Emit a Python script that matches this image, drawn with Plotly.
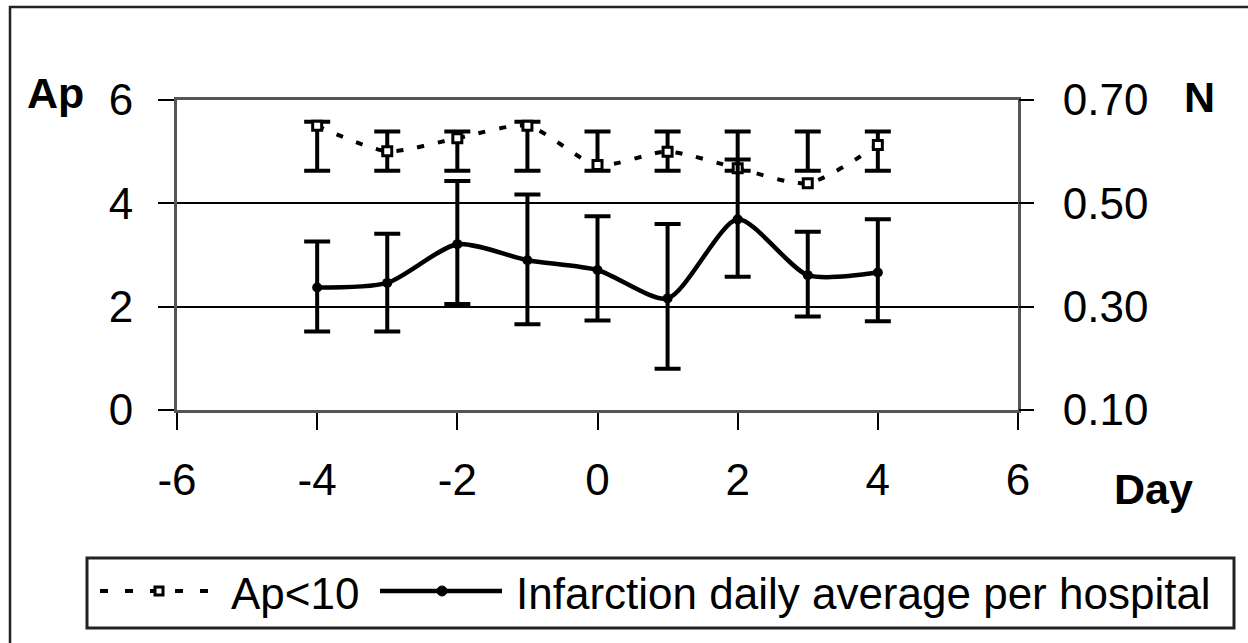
import plotly.graph_objects as go

# ---------------- data ----------------
days = [-4, -3, -2, -1, 0, 1, 2, 3, 4]

ap10 = [5.50, 5.01, 5.26, 5.50, 4.74, 5.00, 4.68, 4.39, 5.13]
ap10_hi = [5.58, 5.39, 5.39, 5.58, 5.39, 5.39, 5.39, 5.39, 5.39]
ap10_lo = [4.63, 4.63, 4.63, 4.63, 4.63, 4.63, 4.63, 4.63, 4.63]

infarction = [0.337, 0.346, 0.421, 0.390, 0.371, 0.316, 0.469, 0.361, 0.366]
infarction_hi = [0.426, 0.441, 0.543, 0.517, 0.475, 0.460, 0.585, 0.445, 0.469]
infarction_lo = [0.252, 0.252, 0.305, 0.266, 0.273, 0.180, 0.358, 0.281, 0.272]

x_ticks = [-6, -4, -2, 0, 2, 4, 6]
x_labels = ["-6", "-4", "-2", "0", "2", "4", "6"]
y_ticks = [0, 2, 4, 6]
y2_ticks = [0.10, 0.30, 0.50, 0.70]
y2_labels = ["0.10", "0.30", "0.50", "0.70"]

# ---------------- layout geometry ----------------
W, H = 1248, 643
L, R, T, B = 177, 1018, 100, 410
FONT = "Liberation Sans, Arial, sans-serif"


def px(xp):
    return (xp - L) / (R - L)


def py(yp):
    return (B - yp) / (B - T)


fig = go.Figure()

fig.add_trace(go.Scatter(
    x=days, y=ap10, name="Ap<10", mode="lines+markers",
    line=dict(color="black", width=4, dash="7px,14px", shape="spline", smoothing=0.7),
    marker=dict(symbol="square", size=9, color="white", line=dict(color="black", width=3)),
    error_y=dict(type="data", symmetric=False,
                 array=[h - v for h, v in zip(ap10_hi, ap10)],
                 arrayminus=[v - l for v, l in zip(ap10, ap10_lo)],
                 color="black", thickness=4, width=13),
    showlegend=False,
))

fig.add_trace(go.Scatter(
    x=days, y=infarction, name="Infarction daily average per hospital", mode="lines+markers",
    yaxis="y2",
    line=dict(color="black", width=4.5, shape="spline", smoothing=0.7),
    marker=dict(symbol="circle", size=10, color="black"),
    error_y=dict(type="data", symmetric=False,
                 array=[h - v for h, v in zip(infarction_hi, infarction)],
                 arrayminus=[v - l for v, l in zip(infarction, infarction_lo)],
                 color="black", thickness=4, width=13),
    showlegend=False,
))

shapes = []
# outer chart frame
shapes.append(dict(type="rect", xref="paper", yref="paper",
                   x0=px(10), y0=py(670), x1=px(1275), y1=py(7),
                   line=dict(color="#222", width=2.5), layer="below"))
# legend box
shapes.append(dict(type="rect", xref="paper", yref="paper",
                   x0=px(87), y0=py(628), x1=px(1234), y1=py(558),
                   line=dict(color="#222", width=3)))
# legend symbols
shapes.append(dict(type="line", xref="paper", yref="paper",
                   x0=px(100), x1=px(214), y0=py(591), y1=py(591),
                   line=dict(color="black", width=4, dash="8px,17px")))
shapes.append(dict(type="rect", xref="paper", yref="paper",
                   x0=px(155), x1=px(163), y0=py(595), y1=py(587),
                   fillcolor="white", line=dict(color="black", width=3)))
shapes.append(dict(type="line", xref="paper", yref="paper",
                   x0=px(380), x1=px(502), y0=py(591), y1=py(591),
                   line=dict(color="black", width=4.5)))
shapes.append(dict(type="circle", xref="paper", yref="paper",
                   x0=px(437), x1=px(447), y0=py(596), y1=py(586),
                   fillcolor="black", line=dict(color="black", width=1)))

annotations = [
    dict(text="Ap<10", xref="paper", yref="paper", x=px(229), y=py(593),
         xanchor="left", yanchor="middle", showarrow=False,
         font=dict(family=FONT, size=44, color="black")),
    dict(text="Infarction daily average per hospital", xref="paper", yref="paper",
         x=px(514), y=py(593), xanchor="left", yanchor="middle", showarrow=False,
         font=dict(family=FONT, size=44, color="black")),
    dict(text="<b>Ap</b>", xref="paper", yref="paper", x=px(55), y=py(93),
         xanchor="center", yanchor="middle", showarrow=False,
         font=dict(family=FONT, size=43, color="black")),
    dict(text="<b>N</b>", xref="paper", yref="paper", x=px(1199), y=py(97),
         xanchor="center", yanchor="middle", showarrow=False,
         font=dict(family=FONT, size=43, color="black")),
    dict(text="<b>Day</b>", xref="paper", yref="paper", x=px(1153), y=py(489),
         xanchor="center", yanchor="middle", showarrow=False,
         font=dict(family=FONT, size=43, color="black")),
]

fig.update_layout(
    width=W, height=H,
    margin=dict(l=L, r=W - R, t=T, b=H - B, pad=0),
    paper_bgcolor="white", plot_bgcolor="white",
    font=dict(family=FONT, size=44, color="black"),
    showlegend=False,
    xaxis=dict(range=[-6, 6], tickvals=x_ticks, ticktext=x_labels, ticks="outside", ticklen=17,
               tickwidth=2, tickcolor="black", showgrid=False, zeroline=False,
               showline=True, mirror=True, linecolor="#555", linewidth=3,
               ticklabelstandoff=12, tickfont=dict(family=FONT, size=44)),
    yaxis=dict(range=[0, 6], tickvals=y_ticks, ticks="outside", ticklen=16,
               tickwidth=2, tickcolor="black", showgrid=True, gridcolor="black",
               gridwidth=1.5, zeroline=False, showline=True, mirror=True,
               linecolor="#555", linewidth=3, ticklabelstandoff=16,
               tickfont=dict(family=FONT, size=44)),
    yaxis2=dict(range=[0.10, 0.70], tickvals=y2_ticks, ticktext=y2_labels,
                overlaying="y", side="right", ticks="outside", ticklen=15,
                tickwidth=2, tickcolor="black", showgrid=False, zeroline=False,
                showline=False, ticklabelstandoff=20,
                tickfont=dict(family=FONT, size=44)),
    shapes=shapes,
    annotations=annotations,
)

fig.write_html("out.html")
